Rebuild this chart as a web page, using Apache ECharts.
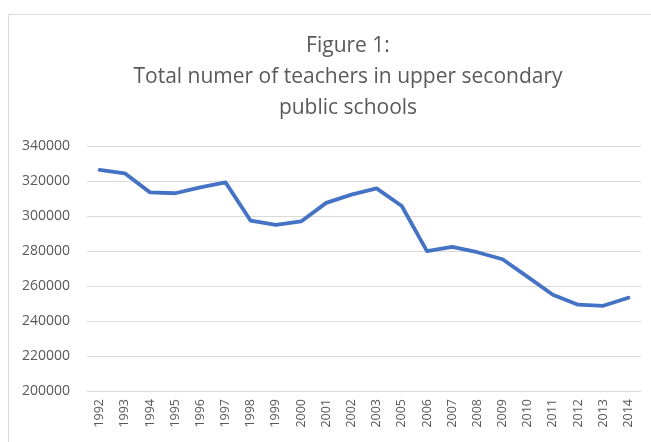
<!DOCTYPE html>
<html><head><meta charset="utf-8">
<script src="https://cdn.jsdelivr.net/npm/echarts@6/dist/echarts.min.js"></script>
<style>html,body{margin:0;padding:0;background:#fff}#c{width:651px;height:442px}</style>
</head><body><div id="c"></div>
<script>
const years = ['1992','1993','1994','1995','1996','1997','1998','1999','2000','2001','2002','2003','2005','2006','2007','2008','2009','2010','2011','2012','2013','2014'];
const teachers = [326300,324400,313500,313000,316300,319200,297300,294900,296900,307500,312200,315800,305700,279900,282300,279300,275300,265200,255000,249300,248700,253300];
const titleLines = ['Figure 1:', 'Total numer of teachers in upper secondary', 'public schools'];
const yMin = 200000, yMax = 340000, yStep = 20000;

const chart = echarts.init(document.getElementById('c'), null, {renderer:'canvas'});
chart.setOption({
  animation:false,
  backgroundColor:'#fff',
  graphic:[{type:'rect', shape:{x:8.5,y:14.5,width:700,height:500}, style:{fill:'none', stroke:'#d9d9d9', lineWidth:1}, z:-1}],
  title:{text:titleLines.join('\n'), left:343, top:26, textAlign:'center',
    textStyle:{fontFamily:'Open Sans', fontSize:21, fontWeight:'normal', color:'#595959', lineHeight:31}},
  grid:{left:87, right:10, top:146, bottom:51, containLabel:false},
  xAxis:{type:'category', data:years, boundaryGap:true,
    axisLine:{lineStyle:{color:'#d9d9d9', width:1}}, axisTick:{show:false},
    axisLabel:{rotate:90, interval:0, margin:8, color:'#595959', fontSize:12.5, fontFamily:'Open Sans'}},
  yAxis:{type:'value', min:yMin, max:yMax, interval:yStep,
    axisLine:{show:false}, axisTick:{show:false},
    splitLine:{lineStyle:{color:'#d9d9d9', width:1}},
    axisLabel:{margin:17, color:'#595959', fontSize:14, fontFamily:'Open Sans', formatter:v=>String(v)}},
  series:[{type:'line', data:teachers, symbol:'none', smooth:false,
    lineStyle:{color:'#4472C4', width:3.8, cap:'round', join:'round'}}]
});
</script></body></html>
